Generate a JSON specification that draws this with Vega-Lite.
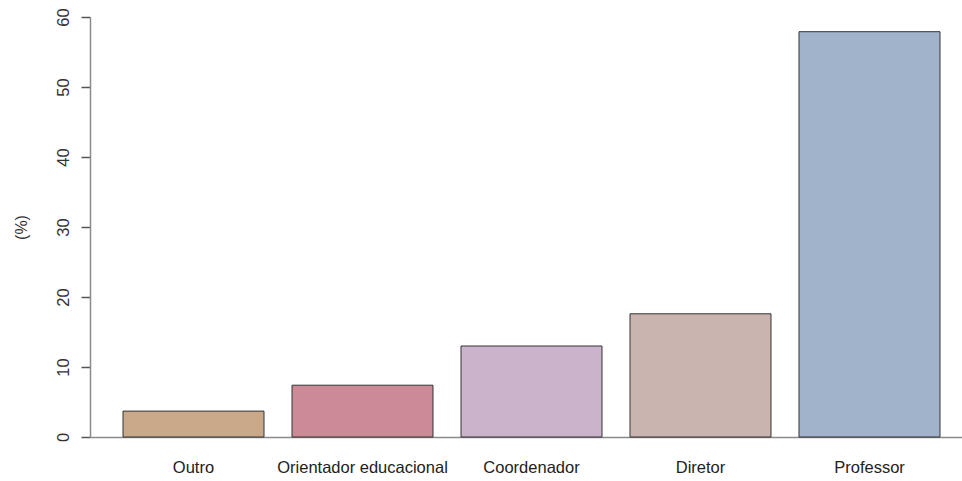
{
  "$schema": "https://vega.github.io/schema/vega-lite/v6.json",
  "autosize": "none",
  "width": 883,
  "height": 420,
  "padding": {"left": 90, "top": 17, "right": 0, "bottom": 44},
  "background": "white",
  "config": {
    "view": {"stroke": null},
    "font": "Liberation Sans"
  },
  "data": {
    "values": [
      {"cargo": "Outro", "pct": 3.7},
      {"cargo": "Orientador educacional", "pct": 7.4},
      {"cargo": "Coordenador", "pct": 13.0},
      {"cargo": "Diretor", "pct": 17.6},
      {"cargo": "Professor", "pct": 57.9}
    ]
  },
  "mark": {"type": "bar", "stroke": "#333333", "strokeWidth": 1},
  "encoding": {
    "x": {
      "field": "cargo",
      "type": "nominal",
      "sort": null,
      "scale": {"paddingInner": 0.1657, "paddingOuter": 0.1953},
      "axis": {
        "title": null,
        "labelAngle": 0,
        "ticks": false,
        "domain": true,
        "domainColor": "#8a8a8a",
        "domainWidth": 1.5,
        "labelFontSize": 16.5,
        "labelColor": "#222222",
        "labelPadding": 22,
        "grid": false
      }
    },
    "y": {
      "field": "pct",
      "type": "quantitative",
      "scale": {"domain": [0, 60], "nice": false},
      "axis": {
        "title": "(%)",
        "titleFontSize": 16,
        "titleFontWeight": "normal",
        "titleColor": "#333333",
        "titlePadding": 26,
        "values": [0, 10, 20, 30, 40, 50, 60],
        "grid": false,
        "domainColor": "#8a8a8a",
        "domainWidth": 1.5,
        "tickColor": "#555555",
        "tickSize": 9,
        "tickWidth": 1.5,
        "labelAngle": -90,
        "labelAlign": "center",
        "labelBaseline": "bottom",
        "labelFontSize": 16.5,
        "labelColor": "#333333",
        "labelPadding": 10,
        "labelOverlap": false
      }
    },
    "color": {
      "field": "cargo",
      "type": "nominal",
      "sort": null,
      "legend": null,
      "scale": {
        "domain": ["Outro", "Orientador educacional", "Coordenador", "Diretor", "Professor"],
        "range": ["#C9A98A", "#CC8A96", "#CBB3CC", "#C9B4AF", "#A1B3CB"]
      }
    }
  }
}
